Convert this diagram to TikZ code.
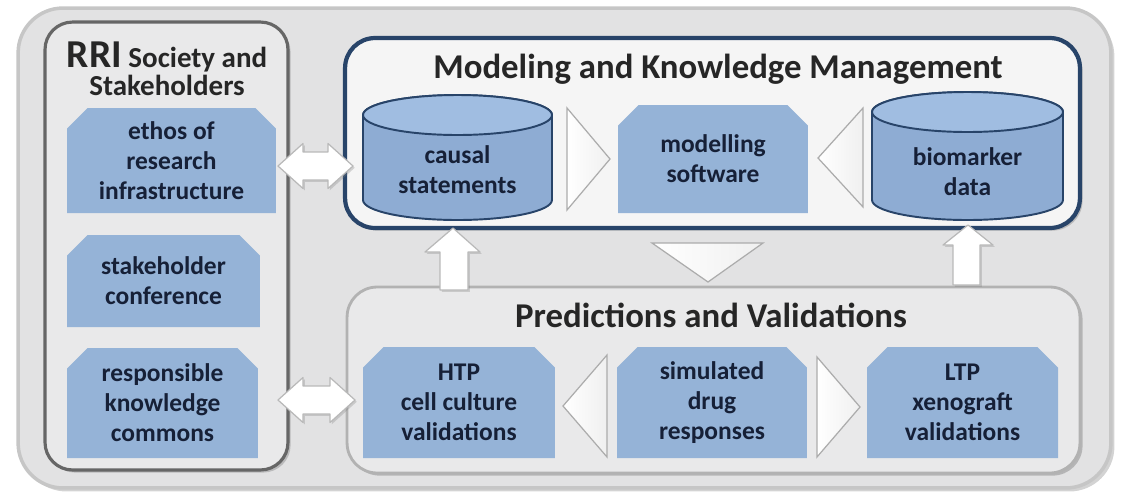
\documentclass[tikz,border=0pt]{standalone}
\usepackage{fontspec}
\setmainfont{Carlito}
\usetikzlibrary{shapes.misc,shadows}

\definecolor{boxblue}{RGB}{149,179,215}
\definecolor{cylbody}{RGB}{142,172,211}
\definecolor{cyltop}{RGB}{160,189,225}
\definecolor{darkblue}{RGB}{40,68,105}
\definecolor{textnavy}{RGB}{22,32,55}
\definecolor{panelgray}{RGB}{233,233,234}
\definecolor{framegray}{RGB}{226,226,227}

\tikzset{
  frame/.style={rounded corners=0.9cm, fill=framegray, draw=gray!45, line width=2pt,
    drop shadow={shadow xshift=2pt, shadow yshift=-2pt, opacity=0.35}},
  sidepanel/.style={rounded corners=0.55cm, fill=panelgray, draw=gray!80!black, line width=1.8pt,
    drop shadow={shadow xshift=1.5pt, shadow yshift=-1.5pt, opacity=0.4}},
  mkmpanel/.style={rounded corners=0.6cm, fill=gray!8, draw=darkblue, line width=2.4pt,
    drop shadow={shadow xshift=1.5pt, shadow yshift=-1.5pt, opacity=0.4}},
  pvpanel/.style={rounded corners=0.6cm, fill=panelgray, draw=gray!60, line width=1.6pt,
    drop shadow={shadow xshift=1.5pt, shadow yshift=-1.5pt, opacity=0.45}},
  title/.style={align=center, text=black!85, font=\fontsize{19.8}{22}\selectfont\bfseries},
  infobox/.style={chamfered rectangle, chamfered rectangle corners={north west,north east},
    chamfered rectangle xsep=0.3cm, fill=boxblue, text=textnavy, align=center, inner sep=0pt,
    font=\fontsize{14.5}{17}\selectfont\bfseries},
  cyltext/.style={align=center, text=textnavy, font=\fontsize{14.5}{17}\selectfont\bfseries},
  flowtri/.style={draw=gray!65, line width=0.7pt, left color=white, right color=gray!12},
  blockarrow/.style={draw=gray!55, fill=white, line width=0.7pt, line join=round,
    drop shadow={shadow xshift=1pt, shadow yshift=-1pt, opacity=0.3}},
}

\begin{document}
\begin{tikzpicture}[x=0.02cm,y=-0.02cm]  % ------ RRI et plateforme de modelisation -------
  \useasboundingbox (0,0) rectangle (1124,495);

  % cadres
  \node[frame, minimum width=21.86cm, minimum height=9.6cm] (all) at (564.5,248) {};
  \node[sidepanel, minimum width=4.86cm, minimum height=8.96cm] (rri) at (166.5,246) {};
  \node[mkmpanel, minimum width=14.7cm, minimum height=3.8cm] (mkm) at (712.5,133) {};
  \node[pvpanel, minimum width=14.66cm, minimum height=3.72cm] (pv) at (713.5,380) {};

  \node[title, font=\fontsize{16.5}{16}\selectfont\bfseries] (rrititle) at (167,69)
    {{\fontsize{22.5}{24}\selectfont RRI} Society and\\Stakeholders};
  \node[title] (mkmtitle) at (718,69) {Modeling and Knowledge Management};
  \node[title] (pvtitle) at (711,315) {Predictions and Validations};

  % RRI
  \node[infobox, minimum width=4.18cm, minimum height=2.1cm] (ethos) at (171.5,160.5) {ethos of\\research\\infrastructure};
  \node[infobox, minimum width=3.86cm, minimum height=1.84cm] (conf) at (163.5,281) {stakeholder\\conference};
  \node[infobox, minimum width=3.82cm, minimum height=2.2cm] (commons) at (162.5,403) {responsible\\knowledge\\commons};

  % cylindres
  \filldraw[fill=cylbody, draw=darkblue, line width=1.1pt] (363,115) -- (363,200)
    arc (180:360:1.89cm and 0.4cm) -- (552,115) arc (0:180:1.89cm and 0.4cm) -- cycle;
  \filldraw[fill=cyltop, draw=darkblue, line width=1.1pt] (457.5,115) ellipse (1.89cm and 0.4cm);
  \filldraw[fill=cylbody, draw=darkblue, line width=1.1pt] (872,112) -- (872,200)
    arc (180:360:1.91cm and 0.4cm) -- (1063,112) arc (0:180:1.91cm and 0.4cm) -- cycle;
  \filldraw[fill=cyltop, draw=darkblue, line width=1.1pt] (967.5,112) ellipse (1.91cm and 0.4cm);
  \node[cyltext] (causal) at (457.5,170) {causal\\statements};
  \node[cyltext] (biomarker) at (967.5,172) {biomarker\\data};

  \node[infobox, minimum width=3.8cm, minimum height=2.16cm] (software) at (713,159) {modelling\\software};
  \node[infobox, minimum width=3.84cm, minimum height=2.22cm] (htp) at (459,402.5) {HTP\\cell culture\\validations};
  \node[infobox, minimum width=3.8cm, minimum height=2.22cm] (drug) at (712,402.5) {simulated\\drug\\responses};
  \node[infobox, minimum width=3.82cm, minimum height=2.22cm] (ltp) at (962.5,402.5) {LTP\\xenograft\\validations};

  % triangles
  \draw[flowtri] (567,108) -- (610,159) -- (567,210) -- cycle;
  \draw[flowtri] (863,108) -- (818,158) -- (863,207) -- cycle;
  \draw[flowtri] (652,243) -- (763,243) -- (708,282) -- cycle;
  \draw[flowtri] (607,355) -- (563,406) -- (607,457) -- cycle;
  \draw[flowtri] (817,357) -- (860,407) -- (817,457) -- cycle;

  % fleches
  \draw[blockarrow] (278,166) -- (303,143.5) -- (303,152) -- (328,152) -- (328,143.5) -- (353,166)
    -- (328,188.5) -- (328,180) -- (303,180) -- (303,188.5) -- cycle;
  \draw[blockarrow] (278,400) -- (303,377.5) -- (303,386) -- (330,386) -- (330,377.5) -- (355,400)
    -- (330,422.5) -- (330,414) -- (303,414) -- (303,422.5) -- cycle;
  \draw[blockarrow] (453,228) -- (480,252) -- (468,252) -- (468,290) -- (440,290) -- (440,252)
    -- (425,252) -- cycle;
  \draw[blockarrow] (968,225) -- (993,245) -- (980,245) -- (980,285) -- (953,285) -- (953,245)
    -- (943,245) -- cycle;
\end{tikzpicture}
\end{document}
